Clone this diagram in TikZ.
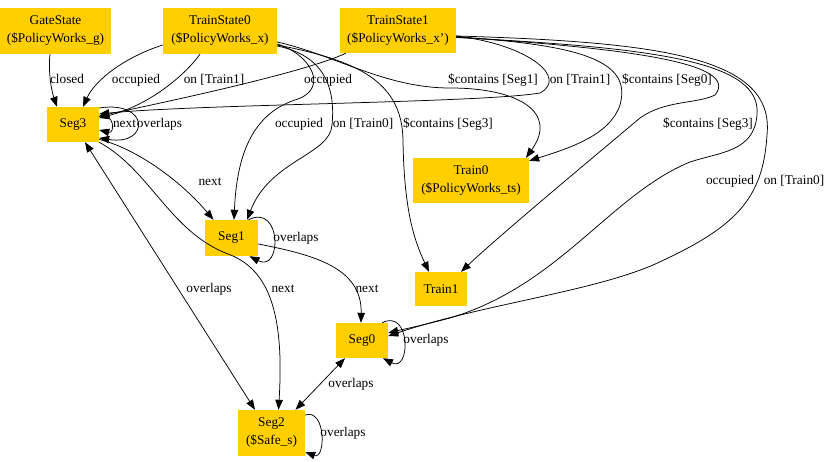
\documentclass[tikz,border=0pt]{standalone}
\usepackage{fontspec}
\setmainfont{Liberation Serif}
\usetikzlibrary{arrows.meta}
\definecolor{nodegold}{RGB}{255,207,0}
\begin{document}
\begin{tikzpicture}[x=1pt,y=-1pt,
  box/.style={draw=none, fill=nodegold, inner sep=0pt, align=center, font=\fontsize{13.3}{18}\selectfont},
  lbl/.style={inner sep=0pt, text height=9.3pt, text depth=2.9pt, font=\fontsize{13.3}{16}\selectfont},
  edge/.style={line width=0.75pt, -{Triangle[length=10pt,width=7.5pt]}},
  bothedge/.style={line width=0.75pt, {Triangle[length=10pt,width=7.5pt]}-{Triangle[length=10pt,width=7.5pt]}}]
\useasboundingbox (0,0) rectangle (825,462);

% nodes
\node[box, minimum width=111pt, minimum height=46pt] (gs)  at (55.5,31)  {GateState\\(\$PolicyWorks\_g)};
\node[box, minimum width=114pt, minimum height=46pt] (ts0) at (220,31)   {TrainState0\\(\$PolicyWorks\_x)};
\node[box, minimum width=116pt, minimum height=45pt] (ts1) at (398,30.5) {TrainState1\\(\$PolicyWorks\_x')};
\node[box, minimum width=52pt,  minimum height=35pt] (s3)  at (73,124.5)  {Seg3};
\node[box, minimum width=116pt, minimum height=45pt] (t0)  at (471,180.5) {Train0\\(\$PolicyWorks\_ts)};
\node[box, minimum width=53pt,  minimum height=36pt] (s1)  at (231.5,238) {Seg1};
\node[box, minimum width=52pt,  minimum height=34pt] (t1)  at (441,289)   {Train1};
\node[box, minimum width=52pt,  minimum height=35pt] (s0)  at (362,340.5) {Seg0};
\node[box, minimum width=67pt,  minimum height=46pt] (s2)  at (271.5,433) {Seg2\\(\$Safe\_s)};

% edges
\draw[edge] ([xshift=-5.5pt]gs.south) .. controls (48,75) and (52,92) .. ([xshift=-16pt]s3.north);
\draw[edge] ([yshift=-14pt]ts0.west) .. controls (125,57) and (95,80) .. ([xshift=10pt]s3.north);
\draw[edge] ([xshift=-20pt]ts0.south) .. controls (185,75) and (150,105) .. ([yshift=6.5pt]s3.east);
\draw[edge] ([xshift=-52pt]ts1.south) .. controls (310,70) and (200,95) .. ([yshift=8.5pt]s3.east);
\draw[edge] ([yshift=-5.5pt]ts1.east) .. controls (530,45) and (568,78) .. (540,93) .. controls (480,103) and (200,104) .. ([yshift=10.5pt]s3.east);
\draw[edge] ([yshift=8pt]s3.east) .. controls (115,112) and (115,134) .. ([yshift=-5.5pt]s3.east);
\draw[edge] ([yshift=16.5pt]s3.east) .. controls (150,100) and (150,146) .. ([yshift=-13.5pt]s3.east);
\draw[edge] ([yshift=-15pt]s3.east) .. controls (135,148) and (180,180) .. ([xshift=-18pt]s1.north);
\draw[edge] (s3.south east) .. controls (150,170) and (170,232) .. (228,254) .. controls (272,270) and (284,320) .. ([xshift=7pt]s2.north);
\draw[bothedge] ([xshift=12pt]s3.south) -- ([xshift=-16.5pt]s2.north);
\draw[edge] ([yshift=-13pt]ts0.east) .. controls (312,55) and (328,88) .. (298,99) .. controls (255,112) and (237,150) .. ([xshift=2.5pt]s1.north);
\draw[edge] ([yshift=-15pt]ts0.east) .. controls (322,55) and (336,85) .. (332,125) .. controls (330,155) and (270,160) .. ([xshift=15.5pt]s1.north);
\draw[edge] ([yshift=-11pt]ts0.east) .. controls (335,55) and (385,88) .. (450,88) .. controls (520,88) and (558,113) .. ([xshift=55pt]t0.north);
\draw[edge] ([yshift=-14pt]ts0.east) .. controls (355,60) and (402,80) .. (403,140) .. controls (404,210) and (414,240) .. ([xshift=-12pt]t1.north);
\draw[edge] ([yshift=-6.5pt]ts1.east) .. controls (585,45) and (632,62) .. (620,105) .. controls (610,135) and (570,148) .. ([yshift=-3pt]t0.north east);
\draw[edge] ([yshift=-6.5pt]ts1.east) .. controls (620,48) and (742,62) .. (715,95) .. controls (697,104) and (665,100) .. (640,118) .. controls (590,160) and (500,235) .. ([xshift=20pt]t1.north);
\draw[edge] ([yshift=-7pt]ts1.east) .. controls (660,48) and (762,62) .. (757,115) .. controls (754,152) and (720,152) .. (690,162) .. controls (610,195) and (560,285) .. (450,318) .. controls (420,326) and (400,330) .. ([yshift=7.5pt]s0.east);
\draw[edge] ([yshift=-5.5pt]ts1.east) .. controls (665,42) and (775,58) .. (767,135) .. controls (763,200) and (735,228) .. (653,265) .. controls (590,292) and (480,305) .. ([yshift=4.5pt]s0.east);
\draw[edge] ([xshift=17pt]s1.north) .. controls (282,203) and (282,273) .. ([xshift=18pt]s1.south);
\draw[edge] ([yshift=-6pt]s1.east) .. controls (315,255) and (362,268) .. ([xshift=-1pt]s0.north);
\draw[edge] ([xshift=20pt]s0.north) .. controls (411,308) and (411,373) .. ([xshift=21pt]s0.south);
\draw[bothedge] ([xshift=-17pt]s0.south) -- ([xshift=24pt]s2.north);
\draw[edge] ([yshift=18pt]s2.east) .. controls (326,408) and (326,460) .. ([yshift=-19pt]s2.east);

% labels
\node[lbl] (l1)  at (67,80)   {closed};
\node[lbl] (l2)  at (136,80)  {occupied};
\node[lbl] (l3)  at (214,80)  {on [Train1]};
\node[lbl] (l4)  at (328,80)  {occupied};
\node[lbl] (l5)  at (493,80)  {\$contains [Seg1]};
\node[lbl] (l6)  at (580,80)  {on [Train1]};
\node[lbl] (l7)  at (667,80)  {\$contains [Seg0]};
\node[lbl] (l8)  at (124.5,124) {next};
\node[lbl] (l9)  at (159.5,124) {overlaps};
\node[lbl] (l10) at (299,124) {occupied};
\node[lbl] (l11) at (363,124) {on [Train0]};
\node[lbl] (l12) at (448,124) {\$contains [Seg3]};
\node[lbl] (l13) at (708,124) {\$contains [Seg3]};
\node[lbl] (l14) at (210,182) {next};
\node[lbl] (l15) at (730,181) {occupied};
\node[lbl] (l16) at (794,181) {on [Train0]};
\node[lbl] (l17) at (296,238) {overlaps};
\node[lbl] (l18) at (209,289) {overlaps};
\node[lbl] (l19) at (283,289) {next};
\node[lbl] (l20) at (367,289) {next};
\node[lbl] (l21) at (426,340) {overlaps};
\node[lbl] (l22) at (351,384) {overlaps};
\node[lbl] (l23) at (343,433) {overlaps};
\end{tikzpicture}
\end{document}
